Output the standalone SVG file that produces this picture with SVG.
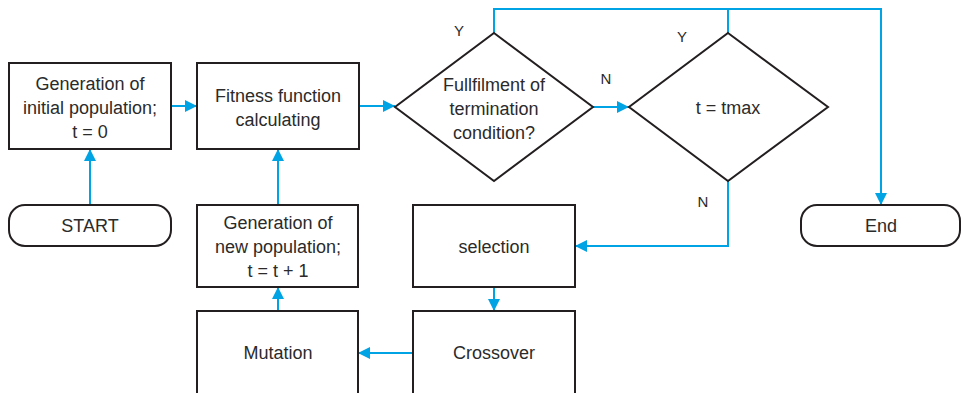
<svg xmlns="http://www.w3.org/2000/svg" width="961" height="393" viewBox="0 0 961 393">
<style>
.box{fill:#fff;stroke:#231f20;stroke-width:2}
.t{font-family:"Liberation Sans",Arial,sans-serif;font-size:18px;fill:#2b2b2b;text-anchor:middle}
.s{font-family:"Liberation Sans",Arial,sans-serif;font-size:15px;fill:#2b2b2b;text-anchor:middle}
.c{fill:none;stroke:#00a3e3;stroke-width:2}
</style>
<defs>
<marker id="ah" viewBox="0 0 12 12" refX="12" refY="6" markerWidth="12" markerHeight="12" markerUnits="userSpaceOnUse" orient="auto">
<path d="M0,0 L12,6 L0,12 z" fill="#00a3e3"/>
</marker>
</defs>
<rect width="961" height="393" fill="#fff"/>
<g id="connectors">
<line class="c" x1="90" y1="205" x2="90" y2="149" marker-end="url(#ah)"/>
<line class="c" x1="171" y1="106" x2="197" y2="106" marker-end="url(#ah)"/>
<line class="c" x1="359" y1="106" x2="395" y2="106" marker-end="url(#ah)"/>
<line class="c" x1="593" y1="107" x2="629" y2="107" marker-end="url(#ah)"/>
<polyline class="c" points="494,33 494,9 881,9 881,205" marker-end="url(#ah)"/>
<line class="c" x1="728" y1="33" x2="728" y2="9"/>
<polyline class="c" points="728,181 728,246 575,246" marker-end="url(#ah)"/>
<line class="c" x1="494" y1="287" x2="494" y2="311" marker-end="url(#ah)"/>
<line class="c" x1="413" y1="353" x2="358" y2="353" marker-end="url(#ah)"/>
<line class="c" x1="278" y1="311" x2="278" y2="287" marker-end="url(#ah)"/>
<line class="c" x1="278" y1="205" x2="278" y2="149" marker-end="url(#ah)"/>
</g>
<g id="labels">
<text class="s" x="459" y="36">Y</text>
<text class="s" x="682" y="42">Y</text>
<text class="s" x="606" y="84">N</text>
<text class="s" x="703" y="207">N</text>
</g>
<g id="init">
<rect class="box" x="9" y="63" width="162" height="86"/>
<text class="t" x="90" y="90">Generation of</text>
<text class="t" x="90" y="114">initial population;</text>
<text class="t" x="90" y="138">t = 0</text>
</g>
<g id="fitness">
<rect class="box" x="197" y="63" width="162" height="86"/>
<text class="t" x="278" y="102">Fitness function</text>
<text class="t" x="278" y="126">calculating</text>
</g>
<g id="start">
<rect class="box" x="9" y="205" width="162" height="41" rx="16"/>
<text class="t" x="90" y="232">START</text>
</g>
<g id="cond">
<polygon class="box" points="494,33 593,107 494,181 395,107"/>
<text class="t" x="494" y="91">Fullfilment of</text>
<text class="t" x="494" y="115">termination</text>
<text class="t" x="494" y="139">condition?</text>
</g>
<g id="tmax">
<polygon class="box" points="728,33 828,107 728,181 629,107"/>
<text class="t" x="728" y="114">t = tmax</text>
</g>
<g id="end">
<rect class="box" x="801" y="205" width="159" height="41" rx="16"/>
<text class="t" x="881" y="232">End</text>
</g>
<g id="newpop">
<rect class="box" x="197" y="205" width="161" height="82"/>
<text class="t" x="278" y="229">Generation of</text>
<text class="t" x="278" y="253">new population;</text>
<text class="t" x="278" y="277">t = t + 1</text>
</g>
<g id="selection">
<rect class="box" x="413" y="205" width="162" height="82"/>
<text class="t" x="494" y="253">selection</text>
</g>
<g id="mutation">
<rect class="box" x="197" y="311" width="161" height="90"/>
<text class="t" x="278" y="359">Mutation</text>
</g>
<g id="crossover">
<rect class="box" x="413" y="311" width="162" height="90"/>
<text class="t" x="494" y="359">Crossover</text>
</g>
</svg>
